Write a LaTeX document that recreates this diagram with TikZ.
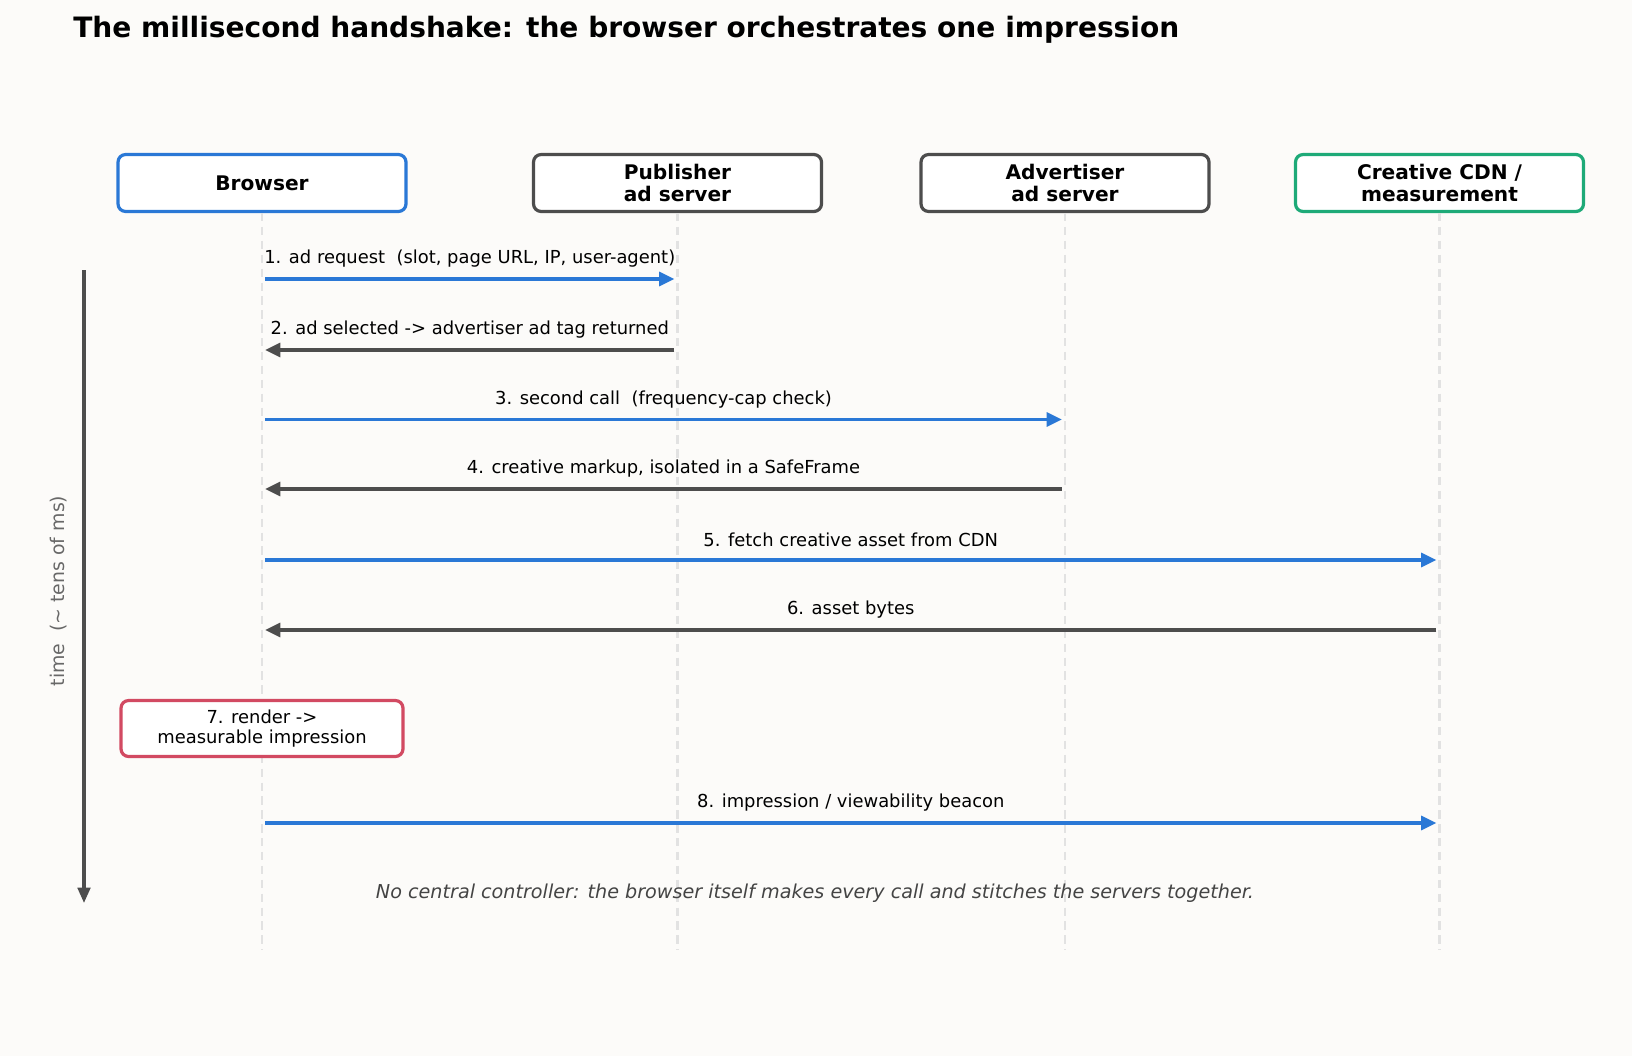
\documentclass[tikz,border=0pt]{standalone}
\usepackage{fontspec}
\setmainfont{DejaVu Sans}
\usetikzlibrary{arrows.meta}
\definecolor{bg}{HTML}{FCFBF9}
\definecolor{cblue}{HTML}{2A78D6}
\definecolor{cgray}{HTML}{4D4D4D}
\definecolor{cgreen}{HTML}{1EAA78}
\definecolor{cred}{HTML}{D24A62}
\definecolor{cline}{HTML}{E2E2E2}
\definecolor{cnote}{HTML}{444444}
\tikzset{
  hdr/.style={draw=#1, line width=2.3pt, rounded corners=5.5pt, fill=white,
    minimum width=288*0.72pt, minimum height=57*0.72pt, align=center,
    font=\fontsize{14.5}{15.8}\selectfont\bfseries, inner sep=0pt},
  lifeline/.style={draw=cline, line width=2pt, dash pattern=on 6pt off 4pt},
  msg/.style={line width=2.5pt, draw=#1,
    -{Triangle[length=11pt,width=10pt]}, shorten >=2.2pt, shorten <=2.2pt},
  lbl/.style={font=\fontsize{12.9}{13}\selectfont, text=black, inner sep=0pt},
  notebox/.style={draw=cred, line width=2.3pt, rounded corners=5.5pt, fill=white,
    minimum width=282*0.72pt, minimum height=56*0.72pt, align=center,
    font=\fontsize{12.9}{15}\selectfont, inner sep=0pt}
}
\begin{document}
\begin{tikzpicture}[x=0.72pt, y=-0.72pt]
\useasboundingbox[fill=bg] (0,0) rectangle (1632,1056);

\node[anchor=west, font=\fontsize{20.2}{22}\selectfont\bfseries, inner sep=0pt] (title) at (73,30)
  {The millisecond handshake: the browser orchestrates one impression};

% header boxes
\node[hdr=cblue] (br) at (262,183) {Browser};
\node[hdr=cgray] (pub) at (677.5,183) {Publisher\\ad server};
\node[hdr=cgray] (adv) at (1065,183) {Advertiser\\ad server};
\node[hdr=cgreen] (cdn) at (1439.5,183) {Creative CDN /\\measurement};

% lifeline ends
\coordinate (brE) at (262,950);
\coordinate (pubE) at (677.5,950);
\coordinate (advE) at (1065,950);
\coordinate (cdnE) at (1439.5,950);
\draw[lifeline] (br.south) -- (brE);
\draw[lifeline] (pub.south) -- (pubE);
\draw[lifeline] (adv.south) -- (advE);
\draw[lifeline] (cdn.south) -- (cdnE);

% message anchor points
\coordinate (b1) at (262,279);   \coordinate (p1) at (677.5,279);
\coordinate (b2) at (262,350);   \coordinate (p2) at (677.5,350);
\coordinate (b3) at (262,419.5); \coordinate (a3) at (1065,419.5);
\coordinate (b4) at (262,489);   \coordinate (a4) at (1065,489);
\coordinate (b5) at (262,560);   \coordinate (c5) at (1439.5,560);
\coordinate (b6) at (262,630);   \coordinate (c6) at (1439.5,630);
\coordinate (b8) at (262,823);   \coordinate (c8) at (1439.5,823);

\draw[msg=cblue] (b1) -- (p1) node[lbl, midway, yshift=20*0.72pt] {1. ad request\ \ (slot, page URL, IP, user-agent)};
\draw[msg=cgray] (p2) -- (b2) node[lbl, midway, yshift=20*0.72pt] {2. ad selected -> advertiser ad tag returned};
\draw[msg=cblue] (b3) -- (a3) node[lbl, midway, yshift=20*0.72pt] {3. second call\ \ (frequency-cap check)};
\draw[msg=cgray] (a4) -- (b4) node[lbl, midway, yshift=20*0.72pt] {4. creative markup, isolated in a SafeFrame};
\draw[msg=cblue] (b5) -- (c5) node[lbl, midway, yshift=20*0.72pt] {5. fetch creative asset from CDN};
\draw[msg=cgray] (c6) -- (b6) node[lbl, midway, yshift=20*0.72pt] {6. asset bytes};
\draw[msg=cblue] (b8) -- (c8) node[lbl, midway, yshift=20*0.72pt] {8. impression / viewability beacon};

% render note
\node[notebox] (render) at (262,728.5) {7. render ->\\measurable impression};

% time axis
\coordinate (t0) at (84,270);
\coordinate (t1) at (84,903);
\draw[line width=2.3pt, draw=cgray, -{Triangle[length=11pt,width=9pt]}] (t0) -- (t1);
\node[rotate=90, font=\fontsize{13.6}{14}\selectfont, text=cgray!85!white, inner sep=0pt] (tlabel) at (59,591) {time\ \ (\textasciitilde\ tens of ms)};

% footnote
\node[font=\fontsize{13.8}{14}\selectfont\itshape, text=cnote, inner sep=0pt] (foot) at (815,893.5)
  {No central controller: the browser itself makes every call and stitches the servers together.};
\end{tikzpicture}
\end{document}
